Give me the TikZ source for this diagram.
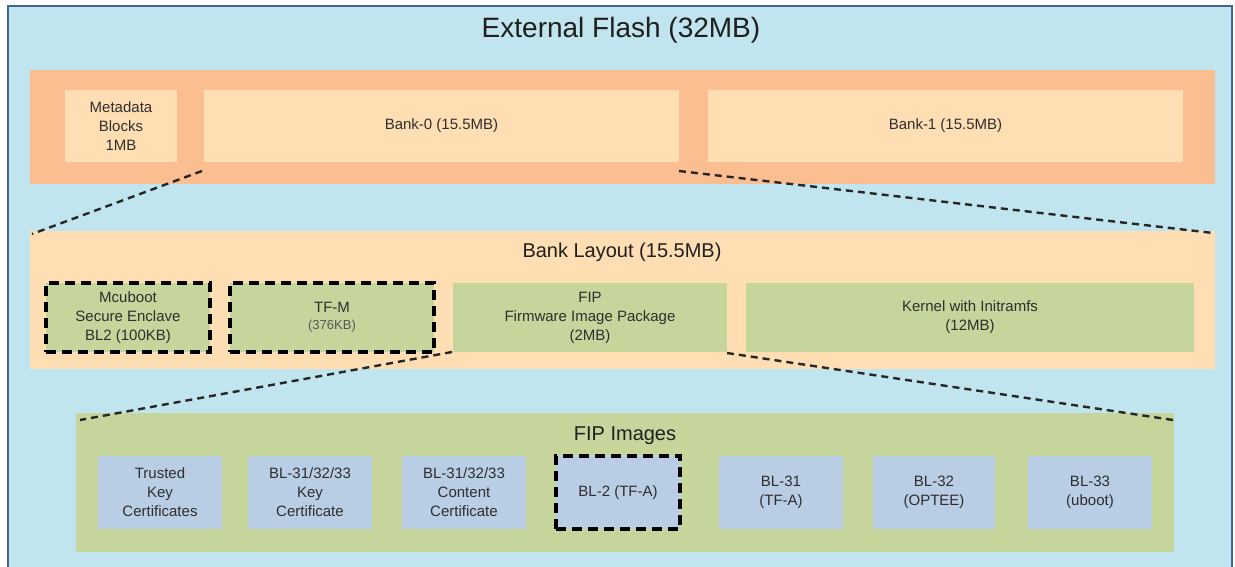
\documentclass[tikz,border=0pt]{standalone}
\usepackage{fontspec}
\setmainfont{Liberation Sans}
\usetikzlibrary{calc}
\definecolor{skyfill}{HTML}{C1E5EE}
\definecolor{skyline}{HTML}{3B6790}
\definecolor{bandfill}{HTML}{FBBE90}
\definecolor{peachfill}{HTML}{FFDEB4}
\definecolor{greenfill}{HTML}{C5D59C}
\definecolor{bluefill}{HTML}{B9CDE4}
\definecolor{txt}{HTML}{2E2E2E}
\tikzset{
  box/.style={rectangle, inner sep=0pt, outer sep=0pt, align=center, text=txt,
    font=\fontsize{15}{19}\selectfont},
  peachbox/.style={box, fill=peachfill},
  greenbox/.style={box, fill=greenfill},
  bluebox/.style={box, fill=bluefill, minimum height=73pt},
  dashbox/.style={draw=black, line width=3.4pt, dash pattern=on 10pt off 6pt},
  conn/.style={draw=black!85, line width=2.4pt, dash pattern=on 7pt off 5pt},
  heading/.style={text=black!88, inner sep=0pt}
}
\begin{document}
\begin{tikzpicture}[x=1pt, y=-1pt]
\useasboundingbox (0,0) rectangle (1235,567);
\clip (0,0) rectangle (1235,567);
\fill[white] (0,0) rectangle (1235,567);
% outer frame
\node[rectangle, fill=skyfill, draw=skyline, line width=2pt, minimum width=1224pt, minimum height=569pt, inner sep=0pt] (frame) at (620,290.5) {};
\node[heading, font=\fontsize{28}{32}\selectfont] (title) at (621,30) {External Flash (32MB)};
% top band
\node[box, fill=bandfill, minimum width=1185pt, minimum height=114pt] (band) at (622.5,127) {};
\node[peachbox, minimum width=112pt, minimum height=72pt] (meta) at (121,126) {Metadata\\Blocks\\1MB};
\node[peachbox, minimum width=475pt, minimum height=72pt] (bank0) at (441.5,126) {Bank-0 (15.5MB)};
\node[peachbox, minimum width=475pt, minimum height=72pt] (bank1) at (945.5,126) {Bank-1 (15.5MB)};
% bank layout
\node[peachbox, minimum width=1185pt, minimum height=138pt] (layout) at (622.5,300) {};
\node[heading, font=\fontsize{20}{24}\selectfont] (layouttitle) at (622,252) {Bank Layout (15.5MB)};
\node[greenbox, dashbox, minimum width=164pt, minimum height=69pt] (mcu) at (128,317.5) {Mcuboot\\Secure Enclave\\BL2 (100KB)};
\node[greenbox, dashbox, minimum width=204pt, minimum height=69pt] (tfm) at (332,317.5) {TF-M\\[-2pt]{\fontsize{13}{15}\selectfont\color{txt!80} (376KB)}};
\node[greenbox, minimum width=274pt, minimum height=69pt] (fip) at (590,317.5) {FIP\\Firmware Image Package\\(2MB)};
\node[greenbox, minimum width=448pt, minimum height=69pt] (kernel) at (970,317.5) {Kernel with Initramfs\\(12MB)};
% FIP images
\node[greenbox, minimum width=1098pt, minimum height=139pt] (fipimg) at (625,482.5) {};
\node[heading, font=\fontsize{20}{24}\selectfont] (fiptitle) at (625,436) {FIP Images};
\node[bluebox, minimum width=124pt] (trusted) at (160,492.5) {Trusted\\Key\\Certificates};
\node[bluebox, minimum width=124pt] (keycert) at (310,492.5) {BL-31/32/33\\Key\\Certificate};
\node[bluebox, minimum width=124pt] (content) at (464,492.5) {BL-31/32/33\\Content\\Certificate};
\node[bluebox, dashbox, minimum width=124pt] (bltwo) at (618,492.5) {BL-2 (TF-A)};
\node[bluebox, minimum width=124pt] (blone) at (781,492.5) {BL-31\\(TF-A)};
\node[bluebox, minimum width=122pt] (blthreetwo) at (934,492.5) {BL-32\\(OPTEE)};
\node[bluebox, minimum width=124pt] (blthreethree) at (1090,492.5) {BL-33\\(uboot)};
% connectors
\draw[conn] ($(bank0.south west)+(-2,9)$) -- ($(layout.north west)+(2,3)$);
\draw[conn] ($(bank0.south east)+(0,9)$) -- ($(layout.north east)+(-2,2)$);
\draw[conn] ($(fip.south west)+(-1,0)$) -- ($(fipimg.north west)+(4,7)$);
\draw[conn] ($(fip.south east)+(0,1)$) -- ($(fipimg.north east)+(-1,7)$);
\end{tikzpicture}
\end{document}
